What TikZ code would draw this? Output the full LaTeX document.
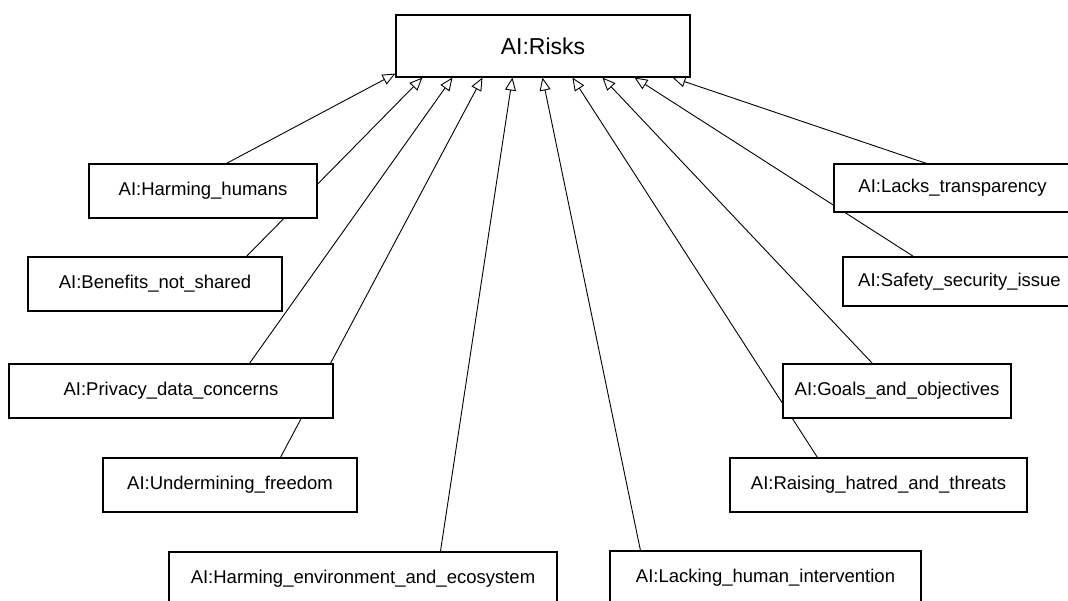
\documentclass[tikz,border=0pt]{standalone}
\usepackage{fontspec}
\setmainfont{Liberation Sans}
\usetikzlibrary{arrows.meta}
\pgfdeclarelayer{background}
\pgfsetlayers{background,main}
\begin{document}
\begin{tikzpicture}[x=1pt,y=-1pt,
  riskbox/.style={draw=black, line width=1.1pt, fill=white, inner sep=0pt,
    font=\fontsize{18.5}{22}\selectfont},
  topbox/.style={riskbox, font=\fontsize{23}{27}\selectfont},
  inh/.style={line width=0.9pt, draw=black,
    -{Triangle[open,length=13pt,width=11pt,line width=0.9pt]}}]
\useasboundingbox (0,0) rectangle (1068,601);

% the parent concept
\node[topbox, minimum width=294pt, minimum height=62pt] (risks) at (543,46) {AI:Risks};

% left column of sub-concepts
\node[riskbox, minimum width=228pt, minimum height=54pt] (hh) at (203,191) {AI:Harming\_humans};
\node[riskbox, minimum width=254pt, minimum height=54pt] (bn) at (155,284) {AI:Benefits\_not\_shared};
\node[riskbox, minimum width=324pt, minimum height=54pt] (pd) at (171,391) {AI:Privacy\_data\_concerns};
\node[riskbox, minimum width=254pt, minimum height=54pt] (uf) at (230,485) {AI:Undermining\_freedom};
\node[riskbox, minimum width=388pt, minimum height=54pt] (he) at (363,579) {AI:Harming\_environment\_and\_ecosystem};

% right column of sub-concepts
\node[riskbox, minimum width=311pt, minimum height=54pt] (lh) at (765.5,578) {AI:Lacking\_human\_intervention};
\node[riskbox, minimum width=297pt, minimum height=54pt] (rh) at (878.5,485) {AI:Raising\_hatred\_and\_threats};
\node[riskbox, minimum width=228pt, minimum height=54pt] (go) at (897,391) {AI:Goals\_and\_objectives};
\node[riskbox, minimum width=233pt, minimum height=49pt] (ss) at (959.5,281.5) {AI:Safety\_security\_issue};
\node[riskbox, minimum width=237pt, minimum height=48pt] (lt) at (952.5,188) {AI:Lacks\_transparency};

% generalisation arrows, kept behind the boxes
\begin{pgfonlayer}{background}
\draw[inh] ([xshift=138pt]hh.north west) -- ([yshift=4pt]risks.south west);
\draw[inh] ([xshift=219pt]bn.north west) -- ([xshift=27pt]risks.south west);
\draw[inh] ([xshift=241pt]pd.north west) -- ([xshift=57pt]risks.south west);
\draw[inh] ([xshift=178pt]uf.north west) -- ([xshift=87pt]risks.south west);
\draw[inh] ([xshift=272pt]he.north west) -- ([xshift=117pt]risks.south west);
\draw[inh] ([xshift=31pt]lh.north west) -- ([xshift=147pt]risks.south west);
\draw[inh] ([xshift=88pt]rh.north west) -- ([xshift=177pt]risks.south west);
\draw[inh] ([xshift=90pt]go.north west) -- ([xshift=207pt]risks.south west);
\draw[inh] ([xshift=71pt]ss.north west) -- ([xshift=239pt]risks.south west);
\draw[inh] ([xshift=93pt]lt.north west) -- ([xshift=277pt]risks.south west);
\end{pgfonlayer}
\end{tikzpicture}
\end{document}
